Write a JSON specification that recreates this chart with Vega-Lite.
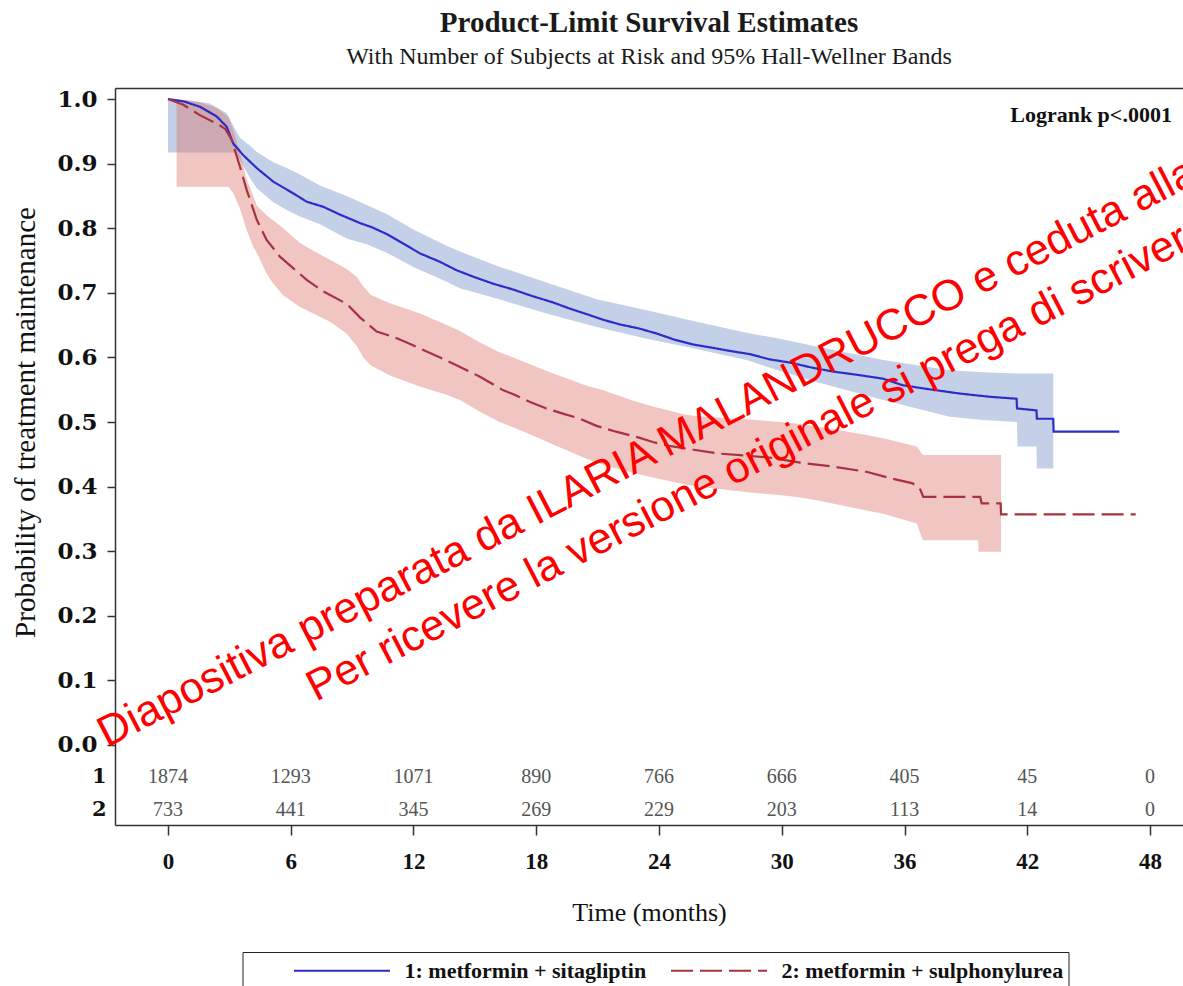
{
  "$schema": "https://vega.github.io/schema/vega-lite/v6.json",
  "autosize": "none",
  "width": 1068,
  "height": 737,
  "padding": {"left": 115, "top": 88, "right": 0, "bottom": 161},
  "background": "white",
  "config": {
    "view": {"stroke": null},
    "font": "Liberation Serif",
    "axis": {"grid": false}
  },
  "title": {
    "text": "Product-Limit Survival Estimates",
    "subtitle": "With Number of Subjects at Risk and 95% Hall-Wellner Bands",
    "font": "Liberation Serif",
    "fontSize": 29,
    "fontWeight": "bold",
    "color": "#1a1a1a",
    "subtitleFont": "Liberation Serif",
    "subtitleFontSize": 24,
    "subtitleFontWeight": "normal",
    "subtitleColor": "#1a1a1a",
    "subtitlePadding": 7,
    "anchor": "middle",
    "frame": "group",
    "offset": 19
  },
  "datasets": {
    "bands": [
      {"arm": "1: metformin + sitagliptin", "t": 0, "lo": 0.917, "hi": 1.0},
      {"arm": "1: metformin + sitagliptin", "t": 1.0, "lo": 0.917, "hi": 0.998},
      {"arm": "1: metformin + sitagliptin", "t": 2.05, "lo": 0.917, "hi": 0.993},
      {"arm": "1: metformin + sitagliptin", "t": 2.87, "lo": 0.917, "hi": 0.978},
      {"arm": "1: metformin + sitagliptin", "t": 3.3, "lo": 0.917, "hi": 0.952},
      {"arm": "1: metformin + sitagliptin", "t": 3.52, "lo": 0.905, "hi": 0.94},
      {"arm": "1: metformin + sitagliptin", "t": 4.0, "lo": 0.878, "hi": 0.928},
      {"arm": "1: metformin + sitagliptin", "t": 4.34, "lo": 0.862, "hi": 0.918},
      {"arm": "1: metformin + sitagliptin", "t": 5.15, "lo": 0.84, "hi": 0.902},
      {"arm": "1: metformin + sitagliptin", "t": 5.8, "lo": 0.828, "hi": 0.893},
      {"arm": "1: metformin + sitagliptin", "t": 6.45, "lo": 0.818, "hi": 0.883},
      {"arm": "1: metformin + sitagliptin", "t": 7.43, "lo": 0.806, "hi": 0.866},
      {"arm": "1: metformin + sitagliptin", "t": 8.73, "lo": 0.784, "hi": 0.85},
      {"arm": "1: metformin + sitagliptin", "t": 9.71, "lo": 0.775, "hi": 0.836},
      {"arm": "1: metformin + sitagliptin", "t": 10.69, "lo": 0.762, "hi": 0.822},
      {"arm": "1: metformin + sitagliptin", "t": 11.34, "lo": 0.751, "hi": 0.81},
      {"arm": "1: metformin + sitagliptin", "t": 11.99, "lo": 0.74, "hi": 0.798},
      {"arm": "1: metformin + sitagliptin", "t": 13.62, "lo": 0.717, "hi": 0.773},
      {"arm": "1: metformin + sitagliptin", "t": 14.27, "lo": 0.707, "hi": 0.764},
      {"arm": "1: metformin + sitagliptin", "t": 16.06, "lo": 0.691, "hi": 0.742},
      {"arm": "1: metformin + sitagliptin", "t": 18.5, "lo": 0.668, "hi": 0.716},
      {"arm": "1: metformin + sitagliptin", "t": 20.95, "lo": 0.647, "hi": 0.69},
      {"arm": "1: metformin + sitagliptin", "t": 23.4, "lo": 0.629, "hi": 0.673},
      {"arm": "1: metformin + sitagliptin", "t": 25.84, "lo": 0.613, "hi": 0.655},
      {"arm": "1: metformin + sitagliptin", "t": 28.28, "lo": 0.596, "hi": 0.638},
      {"arm": "1: metformin + sitagliptin", "t": 29.91, "lo": 0.579, "hi": 0.629},
      {"arm": "1: metformin + sitagliptin", "t": 31.7, "lo": 0.562, "hi": 0.617},
      {"arm": "1: metformin + sitagliptin", "t": 34.96, "lo": 0.534, "hi": 0.596},
      {"arm": "1: metformin + sitagliptin", "t": 38.2, "lo": 0.508, "hi": 0.58},
      {"arm": "1: metformin + sitagliptin", "t": 39.85, "lo": 0.503, "hi": 0.577},
      {"arm": "1: metformin + sitagliptin", "t": 41.5, "lo": 0.5, "hi": 0.575},
      {"arm": "1: metformin + sitagliptin", "t": 41.52, "lo": 0.462, "hi": 0.575},
      {"arm": "1: metformin + sitagliptin", "t": 42.45, "lo": 0.462, "hi": 0.575},
      {"arm": "1: metformin + sitagliptin", "t": 42.47, "lo": 0.428, "hi": 0.575},
      {"arm": "1: metformin + sitagliptin", "t": 43.27, "lo": 0.428, "hi": 0.575},
      {"arm": "2: metformin + sulphonylurea", "t": 0.42, "lo": 0.864, "hi": 1.0},
      {"arm": "2: metformin + sulphonylurea", "t": 1.56, "lo": 0.864, "hi": 0.995},
      {"arm": "2: metformin + sulphonylurea", "t": 2.38, "lo": 0.864, "hi": 0.986},
      {"arm": "2: metformin + sulphonylurea", "t": 2.95, "lo": 0.864, "hi": 0.972},
      {"arm": "2: metformin + sulphonylurea", "t": 3.19, "lo": 0.854, "hi": 0.952},
      {"arm": "2: metformin + sulphonylurea", "t": 3.52, "lo": 0.83, "hi": 0.916},
      {"arm": "2: metformin + sulphonylurea", "t": 3.85, "lo": 0.797, "hi": 0.875},
      {"arm": "2: metformin + sulphonylurea", "t": 4.17, "lo": 0.771, "hi": 0.85},
      {"arm": "2: metformin + sulphonylurea", "t": 4.34, "lo": 0.762, "hi": 0.835},
      {"arm": "2: metformin + sulphonylurea", "t": 4.82, "lo": 0.73, "hi": 0.82},
      {"arm": "2: metformin + sulphonylurea", "t": 5.15, "lo": 0.714, "hi": 0.812},
      {"arm": "2: metformin + sulphonylurea", "t": 5.64, "lo": 0.696, "hi": 0.8},
      {"arm": "2: metformin + sulphonylurea", "t": 6.45, "lo": 0.678, "hi": 0.777},
      {"arm": "2: metformin + sulphonylurea", "t": 7.1, "lo": 0.668, "hi": 0.765},
      {"arm": "2: metformin + sulphonylurea", "t": 7.92, "lo": 0.655, "hi": 0.751},
      {"arm": "2: metformin + sulphonylurea", "t": 8.73, "lo": 0.637, "hi": 0.737},
      {"arm": "2: metformin + sulphonylurea", "t": 9.22, "lo": 0.618, "hi": 0.725},
      {"arm": "2: metformin + sulphonylurea", "t": 9.54, "lo": 0.6, "hi": 0.71},
      {"arm": "2: metformin + sulphonylurea", "t": 9.9, "lo": 0.588, "hi": 0.697},
      {"arm": "2: metformin + sulphonylurea", "t": 10.85, "lo": 0.572, "hi": 0.684},
      {"arm": "2: metformin + sulphonylurea", "t": 12.32, "lo": 0.555, "hi": 0.668},
      {"arm": "2: metformin + sulphonylurea", "t": 13.62, "lo": 0.542, "hi": 0.65},
      {"arm": "2: metformin + sulphonylurea", "t": 14.27, "lo": 0.534, "hi": 0.641},
      {"arm": "2: metformin + sulphonylurea", "t": 15.25, "lo": 0.516, "hi": 0.623},
      {"arm": "2: metformin + sulphonylurea", "t": 16.2, "lo": 0.5, "hi": 0.608},
      {"arm": "2: metformin + sulphonylurea", "t": 16.88, "lo": 0.492, "hi": 0.6},
      {"arm": "2: metformin + sulphonylurea", "t": 18.2, "lo": 0.474, "hi": 0.583},
      {"arm": "2: metformin + sulphonylurea", "t": 18.83, "lo": 0.465, "hi": 0.575},
      {"arm": "2: metformin + sulphonylurea", "t": 20.46, "lo": 0.443, "hi": 0.556},
      {"arm": "2: metformin + sulphonylurea", "t": 21.27, "lo": 0.434, "hi": 0.549},
      {"arm": "2: metformin + sulphonylurea", "t": 22.75, "lo": 0.421, "hi": 0.533},
      {"arm": "2: metformin + sulphonylurea", "t": 23.7, "lo": 0.414, "hi": 0.524},
      {"arm": "2: metformin + sulphonylurea", "t": 25.35, "lo": 0.403, "hi": 0.511},
      {"arm": "2: metformin + sulphonylurea", "t": 26.2, "lo": 0.399, "hi": 0.508},
      {"arm": "2: metformin + sulphonylurea", "t": 28.45, "lo": 0.391, "hi": 0.504},
      {"arm": "2: metformin + sulphonylurea", "t": 29.9, "lo": 0.387, "hi": 0.5},
      {"arm": "2: metformin + sulphonylurea", "t": 30.9, "lo": 0.383, "hi": 0.497},
      {"arm": "2: metformin + sulphonylurea", "t": 31.7, "lo": 0.379, "hi": 0.493},
      {"arm": "2: metformin + sulphonylurea", "t": 34.14, "lo": 0.363, "hi": 0.48},
      {"arm": "2: metformin + sulphonylurea", "t": 34.96, "lo": 0.358, "hi": 0.475},
      {"arm": "2: metformin + sulphonylurea", "t": 36.6, "lo": 0.343, "hi": 0.462},
      {"arm": "2: metformin + sulphonylurea", "t": 36.9, "lo": 0.317, "hi": 0.449},
      {"arm": "2: metformin + sulphonylurea", "t": 39.6, "lo": 0.317, "hi": 0.449},
      {"arm": "2: metformin + sulphonylurea", "t": 39.62, "lo": 0.299, "hi": 0.449},
      {"arm": "2: metformin + sulphonylurea", "t": 40.72, "lo": 0.299, "hi": 0.449}
    ],
    "curves": [
      {"arm": "1: metformin + sitagliptin", "t": 0, "s": 1.0},
      {"arm": "1: metformin + sitagliptin", "t": 0.8, "s": 0.996},
      {"arm": "1: metformin + sitagliptin", "t": 1.56, "s": 0.988},
      {"arm": "1: metformin + sitagliptin", "t": 2.38, "s": 0.973},
      {"arm": "1: metformin + sitagliptin", "t": 2.87, "s": 0.957},
      {"arm": "1: metformin + sitagliptin", "t": 3.19, "s": 0.931},
      {"arm": "1: metformin + sitagliptin", "t": 3.68, "s": 0.913},
      {"arm": "1: metformin + sitagliptin", "t": 4.34, "s": 0.893},
      {"arm": "1: metformin + sitagliptin", "t": 5.15, "s": 0.872},
      {"arm": "1: metformin + sitagliptin", "t": 6.12, "s": 0.854},
      {"arm": "1: metformin + sitagliptin", "t": 6.78, "s": 0.841},
      {"arm": "1: metformin + sitagliptin", "t": 7.6, "s": 0.833},
      {"arm": "1: metformin + sitagliptin", "t": 8.41, "s": 0.821},
      {"arm": "1: metformin + sitagliptin", "t": 9.38, "s": 0.808},
      {"arm": "1: metformin + sitagliptin", "t": 10.0, "s": 0.801},
      {"arm": "1: metformin + sitagliptin", "t": 10.69, "s": 0.791},
      {"arm": "1: metformin + sitagliptin", "t": 11.67, "s": 0.773},
      {"arm": "1: metformin + sitagliptin", "t": 12.32, "s": 0.761},
      {"arm": "1: metformin + sitagliptin", "t": 13.29, "s": 0.748},
      {"arm": "1: metformin + sitagliptin", "t": 14.1, "s": 0.735},
      {"arm": "1: metformin + sitagliptin", "t": 14.92, "s": 0.725},
      {"arm": "1: metformin + sitagliptin", "t": 15.9, "s": 0.714},
      {"arm": "1: metformin + sitagliptin", "t": 16.88, "s": 0.705},
      {"arm": "1: metformin + sitagliptin", "t": 17.8, "s": 0.695},
      {"arm": "1: metformin + sitagliptin", "t": 18.83, "s": 0.685},
      {"arm": "1: metformin + sitagliptin", "t": 19.6, "s": 0.676},
      {"arm": "1: metformin + sitagliptin", "t": 20.46, "s": 0.667},
      {"arm": "1: metformin + sitagliptin", "t": 21.3, "s": 0.658},
      {"arm": "1: metformin + sitagliptin", "t": 22.09, "s": 0.651},
      {"arm": "1: metformin + sitagliptin", "t": 23.0, "s": 0.645},
      {"arm": "1: metformin + sitagliptin", "t": 23.88, "s": 0.637},
      {"arm": "1: metformin + sitagliptin", "t": 24.8, "s": 0.627},
      {"arm": "1: metformin + sitagliptin", "t": 25.67, "s": 0.62},
      {"arm": "1: metformin + sitagliptin", "t": 26.6, "s": 0.615},
      {"arm": "1: metformin + sitagliptin", "t": 27.47, "s": 0.61},
      {"arm": "1: metformin + sitagliptin", "t": 28.45, "s": 0.605},
      {"arm": "1: metformin + sitagliptin", "t": 29.4, "s": 0.597},
      {"arm": "1: metformin + sitagliptin", "t": 30.4, "s": 0.592},
      {"arm": "1: metformin + sitagliptin", "t": 31.5, "s": 0.584},
      {"arm": "1: metformin + sitagliptin", "t": 32.52, "s": 0.578},
      {"arm": "1: metformin + sitagliptin", "t": 33.7, "s": 0.573},
      {"arm": "1: metformin + sitagliptin", "t": 34.96, "s": 0.567},
      {"arm": "1: metformin + sitagliptin", "t": 35.9, "s": 0.557},
      {"arm": "1: metformin + sitagliptin", "t": 36.92, "s": 0.552},
      {"arm": "1: metformin + sitagliptin", "t": 38.71, "s": 0.544},
      {"arm": "1: metformin + sitagliptin", "t": 40.18, "s": 0.539},
      {"arm": "1: metformin + sitagliptin", "t": 41.48, "s": 0.536},
      {"arm": "1: metformin + sitagliptin", "t": 41.5, "s": 0.521},
      {"arm": "1: metformin + sitagliptin", "t": 42.45, "s": 0.518},
      {"arm": "1: metformin + sitagliptin", "t": 42.47, "s": 0.505},
      {"arm": "1: metformin + sitagliptin", "t": 43.27, "s": 0.505},
      {"arm": "1: metformin + sitagliptin", "t": 43.29, "s": 0.485},
      {"arm": "1: metformin + sitagliptin", "t": 46.5, "s": 0.485},
      {"arm": "2: metformin + sulphonylurea", "t": 0, "s": 1.0},
      {"arm": "2: metformin + sulphonylurea", "t": 0.75, "s": 0.991},
      {"arm": "2: metformin + sulphonylurea", "t": 1.56, "s": 0.975},
      {"arm": "2: metformin + sulphonylurea", "t": 2.38, "s": 0.962},
      {"arm": "2: metformin + sulphonylurea", "t": 2.79, "s": 0.954},
      {"arm": "2: metformin + sulphonylurea", "t": 3.11, "s": 0.937},
      {"arm": "2: metformin + sulphonylurea", "t": 3.52, "s": 0.895},
      {"arm": "2: metformin + sulphonylurea", "t": 3.85, "s": 0.859},
      {"arm": "2: metformin + sulphonylurea", "t": 4.34, "s": 0.813},
      {"arm": "2: metformin + sulphonylurea", "t": 4.82, "s": 0.782},
      {"arm": "2: metformin + sulphonylurea", "t": 5.47, "s": 0.756},
      {"arm": "2: metformin + sulphonylurea", "t": 6.2, "s": 0.736},
      {"arm": "2: metformin + sulphonylurea", "t": 6.78, "s": 0.72},
      {"arm": "2: metformin + sulphonylurea", "t": 7.6, "s": 0.702},
      {"arm": "2: metformin + sulphonylurea", "t": 8.73, "s": 0.683},
      {"arm": "2: metformin + sulphonylurea", "t": 9.38, "s": 0.662},
      {"arm": "2: metformin + sulphonylurea", "t": 10.2, "s": 0.64},
      {"arm": "2: metformin + sulphonylurea", "t": 11.0, "s": 0.632},
      {"arm": "2: metformin + sulphonylurea", "t": 11.67, "s": 0.623},
      {"arm": "2: metformin + sulphonylurea", "t": 12.3, "s": 0.614},
      {"arm": "2: metformin + sulphonylurea", "t": 13.3, "s": 0.6},
      {"arm": "2: metformin + sulphonylurea", "t": 14.1, "s": 0.588},
      {"arm": "2: metformin + sulphonylurea", "t": 15.25, "s": 0.57},
      {"arm": "2: metformin + sulphonylurea", "t": 16.39, "s": 0.549},
      {"arm": "2: metformin + sulphonylurea", "t": 16.88, "s": 0.543},
      {"arm": "2: metformin + sulphonylurea", "t": 17.7, "s": 0.531},
      {"arm": "2: metformin + sulphonylurea", "t": 18.5, "s": 0.521},
      {"arm": "2: metformin + sulphonylurea", "t": 19.3, "s": 0.513},
      {"arm": "2: metformin + sulphonylurea", "t": 20.14, "s": 0.505},
      {"arm": "2: metformin + sulphonylurea", "t": 20.95, "s": 0.494},
      {"arm": "2: metformin + sulphonylurea", "t": 21.9, "s": 0.485},
      {"arm": "2: metformin + sulphonylurea", "t": 22.9, "s": 0.477},
      {"arm": "2: metformin + sulphonylurea", "t": 23.7, "s": 0.469},
      {"arm": "2: metformin + sulphonylurea", "t": 24.5, "s": 0.463},
      {"arm": "2: metformin + sulphonylurea", "t": 25.7, "s": 0.457},
      {"arm": "2: metformin + sulphonylurea", "t": 26.98, "s": 0.451},
      {"arm": "2: metformin + sulphonylurea", "t": 28.2, "s": 0.448},
      {"arm": "2: metformin + sulphonylurea", "t": 29.4, "s": 0.445},
      {"arm": "2: metformin + sulphonylurea", "t": 30.9, "s": 0.437},
      {"arm": "2: metformin + sulphonylurea", "t": 32.5, "s": 0.431},
      {"arm": "2: metformin + sulphonylurea", "t": 34.14, "s": 0.423},
      {"arm": "2: metformin + sulphonylurea", "t": 35.3, "s": 0.413},
      {"arm": "2: metformin + sulphonylurea", "t": 36.4, "s": 0.405},
      {"arm": "2: metformin + sulphonylurea", "t": 36.75, "s": 0.397},
      {"arm": "2: metformin + sulphonylurea", "t": 36.92, "s": 0.384},
      {"arm": "2: metformin + sulphonylurea", "t": 39.7, "s": 0.384},
      {"arm": "2: metformin + sulphonylurea", "t": 39.77, "s": 0.374},
      {"arm": "2: metformin + sulphonylurea", "t": 40.7, "s": 0.374},
      {"arm": "2: metformin + sulphonylurea", "t": 40.72, "s": 0.357},
      {"arm": "2: metformin + sulphonylurea", "t": 47.3, "s": 0.357}
    ],
    "risk": [
      {"row": 1, "t": 0, "n": 1874}, {"row": 1, "t": 6, "n": 1293}, {"row": 1, "t": 12, "n": 1071},
      {"row": 1, "t": 18, "n": 890}, {"row": 1, "t": 24, "n": 766}, {"row": 1, "t": 30, "n": 666},
      {"row": 1, "t": 36, "n": 405}, {"row": 1, "t": 42, "n": 45}, {"row": 1, "t": 48, "n": 0},
      {"row": 2, "t": 0, "n": 733}, {"row": 2, "t": 6, "n": 441}, {"row": 2, "t": 12, "n": 345},
      {"row": 2, "t": 18, "n": 269}, {"row": 2, "t": 24, "n": 229}, {"row": 2, "t": 30, "n": 203},
      {"row": 2, "t": 36, "n": 113}, {"row": 2, "t": 42, "n": 14}, {"row": 2, "t": 48, "n": 0}
    ]
  },
  "layer": [
    {
      "data": {"name": "bands"},
      "mark": {"type": "area", "fillOpacity": 0.4},
      "encoding": {
        "x": {
          "field": "t", "type": "quantitative",
          "scale": {"domain": [-2.5906, 49.613], "nice": false, "zero": false},
          "axis": {
            "orient": "bottom",
            "values": [0, 6, 12, 18, 24, 30, 36, 42, 48],
            "title": "Time (months)",
            "titleFont": "Liberation Serif", "titleFontSize": 26, "titleFontWeight": "normal", "titleColor": "#111",
            "titlePadding": 26,
            "labelFont": "Liberation Serif", "labelFontSize": 23, "labelFontWeight": "bold", "labelColor": "#111",
            "labelPadding": 15,
            "tickSize": 10, "tickColor": "#333", "tickWidth": 1.5,
            "domainColor": "#333", "domainWidth": 1.5,
            "labelFlush": false, "labelOverlap": false
          }
        },
        "y": {
          "field": "lo", "type": "quantitative",
          "scale": {"domain": [-0.12384, 1.01703], "nice": false, "zero": false},
          "axis": {
            "values": [0, 0.1, 0.2, 0.3, 0.4, 0.5, 0.6, 0.7, 0.8, 0.9, 1.0],
            "format": ".1f",
            "labelFont": "DejaVu Serif", "labelFontSize": 23, "labelFontWeight": "bold", "labelColor": "#111",
            "labelPadding": 10,
            "tickSize": 8, "tickColor": "#333", "tickWidth": 1.5,
            "domainColor": "#333", "domainWidth": 1.5,
            "title": "Probability of treatment maintenance",
            "titleFont": "Liberation Serif", "titleFontSize": 29, "titleFontWeight": "normal", "titleColor": "#111",
            "titleX": -90, "titleY": 334, "titleAngle": 270, "titleAlign": "center", "titleBaseline": "middle"
          }
        },
        "y2": {"field": "hi"},
        "fill": {
          "field": "arm", "type": "nominal",
          "scale": {"range": ["#6b89c3", "#d96e66"]},
          "legend": null
        }
      }
    },
    {
      "data": {"name": "curves"},
      "mark": {"type": "line", "strokeWidth": 2.2},
      "encoding": {
        "x": {
          "field": "t", "type": "quantitative",
          "axis": {"orient": "top", "labels": false, "ticks": false, "title": null, "domain": true, "domainColor": "#333", "domainWidth": 1.5}
        },
        "y": {"field": "s", "type": "quantitative"},
        "stroke": {
          "field": "arm", "type": "nominal",
          "scale": {"domain": ["1: metformin + sitagliptin", "2: metformin + sulphonylurea"], "range": ["#2c2cc8", "#a8323e"]},
          "legend": {
            "orient": "none", "legendX": 127.5, "legendY": 864, "direction": "horizontal",
            "title": "\u00a0", "titleOrient": "left", "titlePadding": 45, "titleFontSize": 10,
            "strokeColor": "#222", "padding": 5,
            "symbolType": "M-1,0H7", "symbolSize": 576, "symbolStrokeWidth": 2.2,
            "labelFont": "Liberation Serif", "labelFontSize": 22, "labelFontWeight": "bold", "labelColor": "#111",
            "labelOffset": 85, "columnPadding": 20, "labelLimit": 600
          }
        },
        "strokeDash": {
          "field": "arm", "type": "nominal",
          "scale": {"domain": ["1: metformin + sitagliptin", "2: metformin + sulphonylurea"], "range": [[1, 0], [22, 7]]},
          "legend": {
            "orient": "none", "legendX": 127.5, "legendY": 864, "direction": "horizontal",
            "title": "\u00a0", "titleOrient": "left", "titlePadding": 45, "titleFontSize": 10,
            "strokeColor": "#222", "padding": 5,
            "symbolType": "M-1,0H7", "symbolSize": 576, "symbolStrokeWidth": 2.2,
            "labelFont": "Liberation Serif", "labelFontSize": 22, "labelFontWeight": "bold", "labelColor": "#111",
            "labelOffset": 85, "columnPadding": 20, "labelLimit": 600
          }
        }
      }
    },
    {
      "data": {"name": "risk"},
      "transform": [{"filter": "datum.row == 1"}],
      "mark": {"type": "text", "font": "Liberation Serif", "fontSize": 20, "color": "#555", "align": "center", "baseline": "middle"},
      "encoding": {
        "x": {"field": "t", "type": "quantitative", "axis": null},
        "y": {"datum": -0.0495, "type": "quantitative"},
        "text": {"field": "n", "type": "quantitative"}
      }
    },
    {
      "data": {"name": "risk"},
      "transform": [{"filter": "datum.row == 2"}],
      "mark": {"type": "text", "font": "Liberation Serif", "fontSize": 20, "color": "#555", "align": "center", "baseline": "middle"},
      "encoding": {
        "x": {"field": "t", "type": "quantitative", "axis": null},
        "y": {"datum": -0.1006, "type": "quantitative"},
        "text": {"field": "n", "type": "quantitative"}
      }
    },
    {
      "data": {"values": [{"label": "1"}, {"label": "2"}]},
      "transform": [{"filter": "datum.label == '1'"}],
      "mark": {"type": "text", "font": "DejaVu Serif", "fontSize": 21, "fontWeight": "bold", "color": "#111", "align": "right", "baseline": "middle"},
      "encoding": {
        "x": {"datum": -3.0, "type": "quantitative", "axis": null},
        "y": {"datum": -0.0495, "type": "quantitative"},
        "text": {"field": "label", "type": "nominal"}
      }
    },
    {
      "data": {"values": [{"label": "1"}, {"label": "2"}]},
      "transform": [{"filter": "datum.label == '2'"}],
      "mark": {"type": "text", "font": "DejaVu Serif", "fontSize": 21, "fontWeight": "bold", "color": "#111", "align": "right", "baseline": "middle"},
      "encoding": {
        "x": {"datum": -3.0, "type": "quantitative", "axis": null},
        "y": {"datum": -0.1006, "type": "quantitative"},
        "text": {"field": "label", "type": "nominal"}
      }
    },
    {
      "data": {"values": [{"label": "Logrank p<.0001"}]},
      "mark": {"type": "text", "font": "Liberation Serif", "fontSize": 22, "fontWeight": "bold", "color": "#111", "align": "right", "baseline": "alphabetic"},
      "encoding": {
        "x": {"datum": 49.07, "type": "quantitative", "axis": null},
        "y": {"datum": 0.9644, "type": "quantitative"},
        "text": {"field": "label", "type": "nominal"}
      }
    },
    {
      "data": {"values": [{"label": "Diapositiva preparata da ILARIA MALANDRUCCO e ceduta alla"}]},
      "mark": {"type": "text", "font": "Liberation Sans", "fontSize": 43.5, "color": "#ff0000", "align": "left", "baseline": "alphabetic", "angle": 332.6},
      "encoding": {
        "x": {"datum": -2.98, "type": "quantitative", "axis": null},
        "y": {"datum": -0.0046, "type": "quantitative"},
        "text": {"field": "label", "type": "nominal"}
      }
    },
    {
      "data": {"values": [{"label": "Per ricevere la versione originale si prega di scrivere"}]},
      "mark": {"type": "text", "font": "Liberation Sans", "fontSize": 43.5, "color": "#ff0000", "align": "left", "baseline": "alphabetic", "angle": 332.6},
      "encoding": {
        "x": {"datum": 7.23, "type": "quantitative", "axis": null},
        "y": {"datum": 0.0666, "type": "quantitative"},
        "text": {"field": "label", "type": "nominal"}
      }
    }
  ]
}
